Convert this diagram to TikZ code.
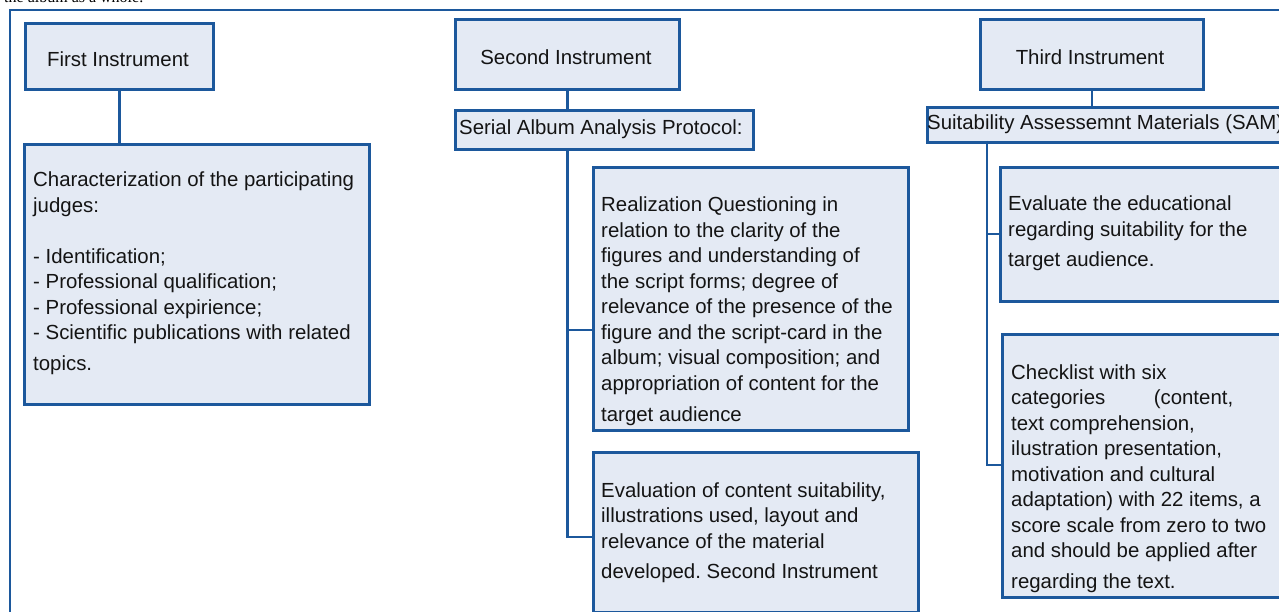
\documentclass[tikz,border=0pt]{standalone}
\usepackage{fontspec}
\setmainfont{Liberation Sans}
\newfontfamily\pagefont{Liberation Serif}
\definecolor{frameblue}{RGB}{28,88,156}
\definecolor{boxfill}{RGB}{228,234,244}
\definecolor{ink}{RGB}{20,20,20}
\frenchspacing
% one line of a multi-line text block
\newcommand\rowtxt[1]{\hbox{\strut#1}}
\begin{document}
\begin{tikzpicture}[x=1pt,y=-1pt,
  box/.style={draw=frameblue, fill=boxfill, line width=2.7pt, inner sep=0pt, anchor=north west},
  conn/.style={draw=frameblue, line width=2.7pt},
  txt/.style={anchor=base west, inner sep=0pt, text=ink, font=\fontsize{20.4}{25.5}\selectfont},
  head/.style={txt, anchor=base}]
\useasboundingbox (0,0) rectangle (1279,612);
\clip (0,0) rectangle (1279,612);

% running text of the page, cut by the top edge
\node[anchor=base west, inner sep=0pt, font=\pagefont\fontsize{16}{16}\selectfont] (pagetxt) at (4,3) {the album as a whole.};

% outer frame
\draw[conn] (10,700) -- (10,10) -- (1320,10);

% boxes
\node[box, minimum width=188, minimum height=66] (first) at (24,22) {};
\node[box, minimum width=345, minimum height=260] (chars) at (23,143) {};
\node[box, minimum width=224, minimum height=70] (second) at (454,18) {};
\node[box, minimum width=298, minimum height=39] (serial) at (454,109) {};
\node[box, minimum width=315, minimum height=263] (realiz) at (592,166) {};
\node[box, minimum width=325, minimum height=160] (evalc) at (592,451) {};
\node[box, minimum width=223, minimum height=70] (third) at (979,18) {};
\node[box, minimum width=380, minimum height=35] (sam) at (926,106) {};
\node[box, minimum width=320, minimum height=134] (evalt) at (999,166) {};
\node[box, minimum width=320, minimum height=263] (check) at (1001,333) {};

% connectors
\draw[conn] (first.south) -- (first.south |- chars.north);
\draw[conn] (second.south) -- (second.south |- serial.north);
\draw[conn] (third.south) -- (third.south |- sam.north);
\coordinate (j2) at (second.south |- serial.south);
\coordinate (realbr) at (realiz.west |- 0,330);
\coordinate (evalbr) at (evalc.west |- 0,537);
\draw[conn] (j2) |- (realbr);
\draw[conn] (j2) |- (evalbr);
\coordinate (j3) at (987,141);
\coordinate (evtbr) at (evalt.west |- 0,234);
\coordinate (chkbr) at (check.west |- 0,465);
\draw[conn] (j3) |- (evtbr);
\draw[conn] (j3) |- (chkbr);

% texts
\node[head] (firstlbl) at (118,66.5) {First Instrument};
\node[head] (secondlbl) at (566,65) {Second Instrument};
\node[head] (thirdlbl) at (1090,65) {Third Instrument};
\node[txt] (seriallbl) at (459,135) {Serial Album Analysis Protocol:};
\node[txt] (samlbl) at (927,130) {Suitability Assessemnt Materials (SAM)};

\node[txt] (charstxt) at (33,187) {\vtop{%
  \rowtxt{Characterization of the participating}
  \rowtxt{judges:}
  \rowtxt{}
  \rowtxt{- Identification;}
  \rowtxt{- Professional qualification;}
  \rowtxt{- Professional expirience;}
  \rowtxt{- Scientific publications with related}
  \vskip5pt
  \rowtxt{topics.}}};

\node[txt] (realiztxt) at (601,212) {\vtop{%
  \rowtxt{Realization Questioning in}
  \rowtxt{relation to the clarity of the}
  \rowtxt{figures and understanding of}
  \rowtxt{the script forms; degree of}
  \rowtxt{relevance of the presence of the}
  \rowtxt{figure and the script-card in the}
  \rowtxt{album; visual composition; and}
  \rowtxt{appropriation of content for the}
  \vskip5.5pt
  \rowtxt{target audience}}};

\node[txt] (evalctxt) at (601,497) {\vtop{%
  \rowtxt{Evaluation of content suitability,}
  \rowtxt{illustrations used, layout and}
  \rowtxt{relevance of the material}
  \vskip5pt
  \rowtxt{developed. Second Instrument}}};

\node[txt] (evalttxt) at (1008,211) {\vtop{%
  \rowtxt{Evaluate the educational}
  \rowtxt{regarding suitability for the}
  \vskip4.5pt
  \rowtxt{target audience.}}};

\node[txt] (checktxt) at (1011,379) {\vtop{%
  \rowtxt{Checklist with six}
  \hbox to 222pt{\strut categories\hfill(content,}
  \rowtxt{text comprehension,}
  \rowtxt{ilustration presentation,}
  \rowtxt{motivation and cultural}
  \rowtxt{adaptation) with 22 items, a}
  \rowtxt{score scale from zero to two}
  \rowtxt{and should be applied after}
  \vskip5.5pt
  \rowtxt{regarding the text.}}};
\end{tikzpicture}
\end{document}
